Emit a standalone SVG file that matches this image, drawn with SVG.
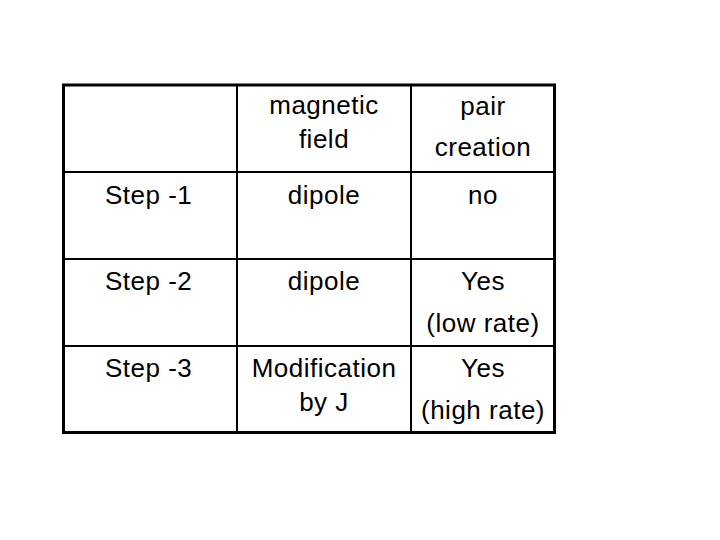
<svg xmlns="http://www.w3.org/2000/svg" width="720" height="540" viewBox="0 0 720 540">
<style>
text{font-family:"Liberation Sans",Arial,sans-serif;font-size:26px;letter-spacing:0.5px;fill:#000}
.c{text-anchor:middle}
.in{stroke:#000;stroke-width:2}
</style>
<rect width="720" height="540" fill="#fff"/>
<g id="grid">
<line class="in" x1="237" y1="84" x2="237" y2="433"/>
<line class="in" x1="411" y1="84" x2="411" y2="433"/>
<line class="in" x1="63" y1="172" x2="555" y2="172"/>
<line class="in" x1="63" y1="259" x2="555" y2="259"/>
<line class="in" x1="63" y1="346" x2="555" y2="346"/>
<rect x="63.5" y="85" width="491" height="347.5" fill="none" stroke="#000" stroke-width="3"/>
</g>
<g id="header">
<text class="c" x="324" y="114">magnetic</text>
<text class="c" x="324" y="148">field</text>
<text class="c" x="483" y="115">pair</text>
<text class="c" x="483" y="156">creation</text>
</g>
<g id="row1">
<text x="105" y="204">Step -1</text>
<text class="c" x="324" y="204">dipole</text>
<text class="c" x="483" y="204">no</text>
</g>
<g id="row2">
<text x="105" y="290">Step -2</text>
<text class="c" x="324" y="290">dipole</text>
<text class="c" x="483" y="290">Yes</text>
<text class="c" x="483" y="332">(low rate)</text>
</g>
<g id="row3">
<text x="105" y="377">Step -3</text>
<text class="c" x="324" y="377">Modification</text>
<text class="c" x="324" y="411">by J</text>
<text class="c" x="483" y="377">Yes</text>
<text class="c" x="483" y="419">(high rate)</text>
</g>
</svg>
